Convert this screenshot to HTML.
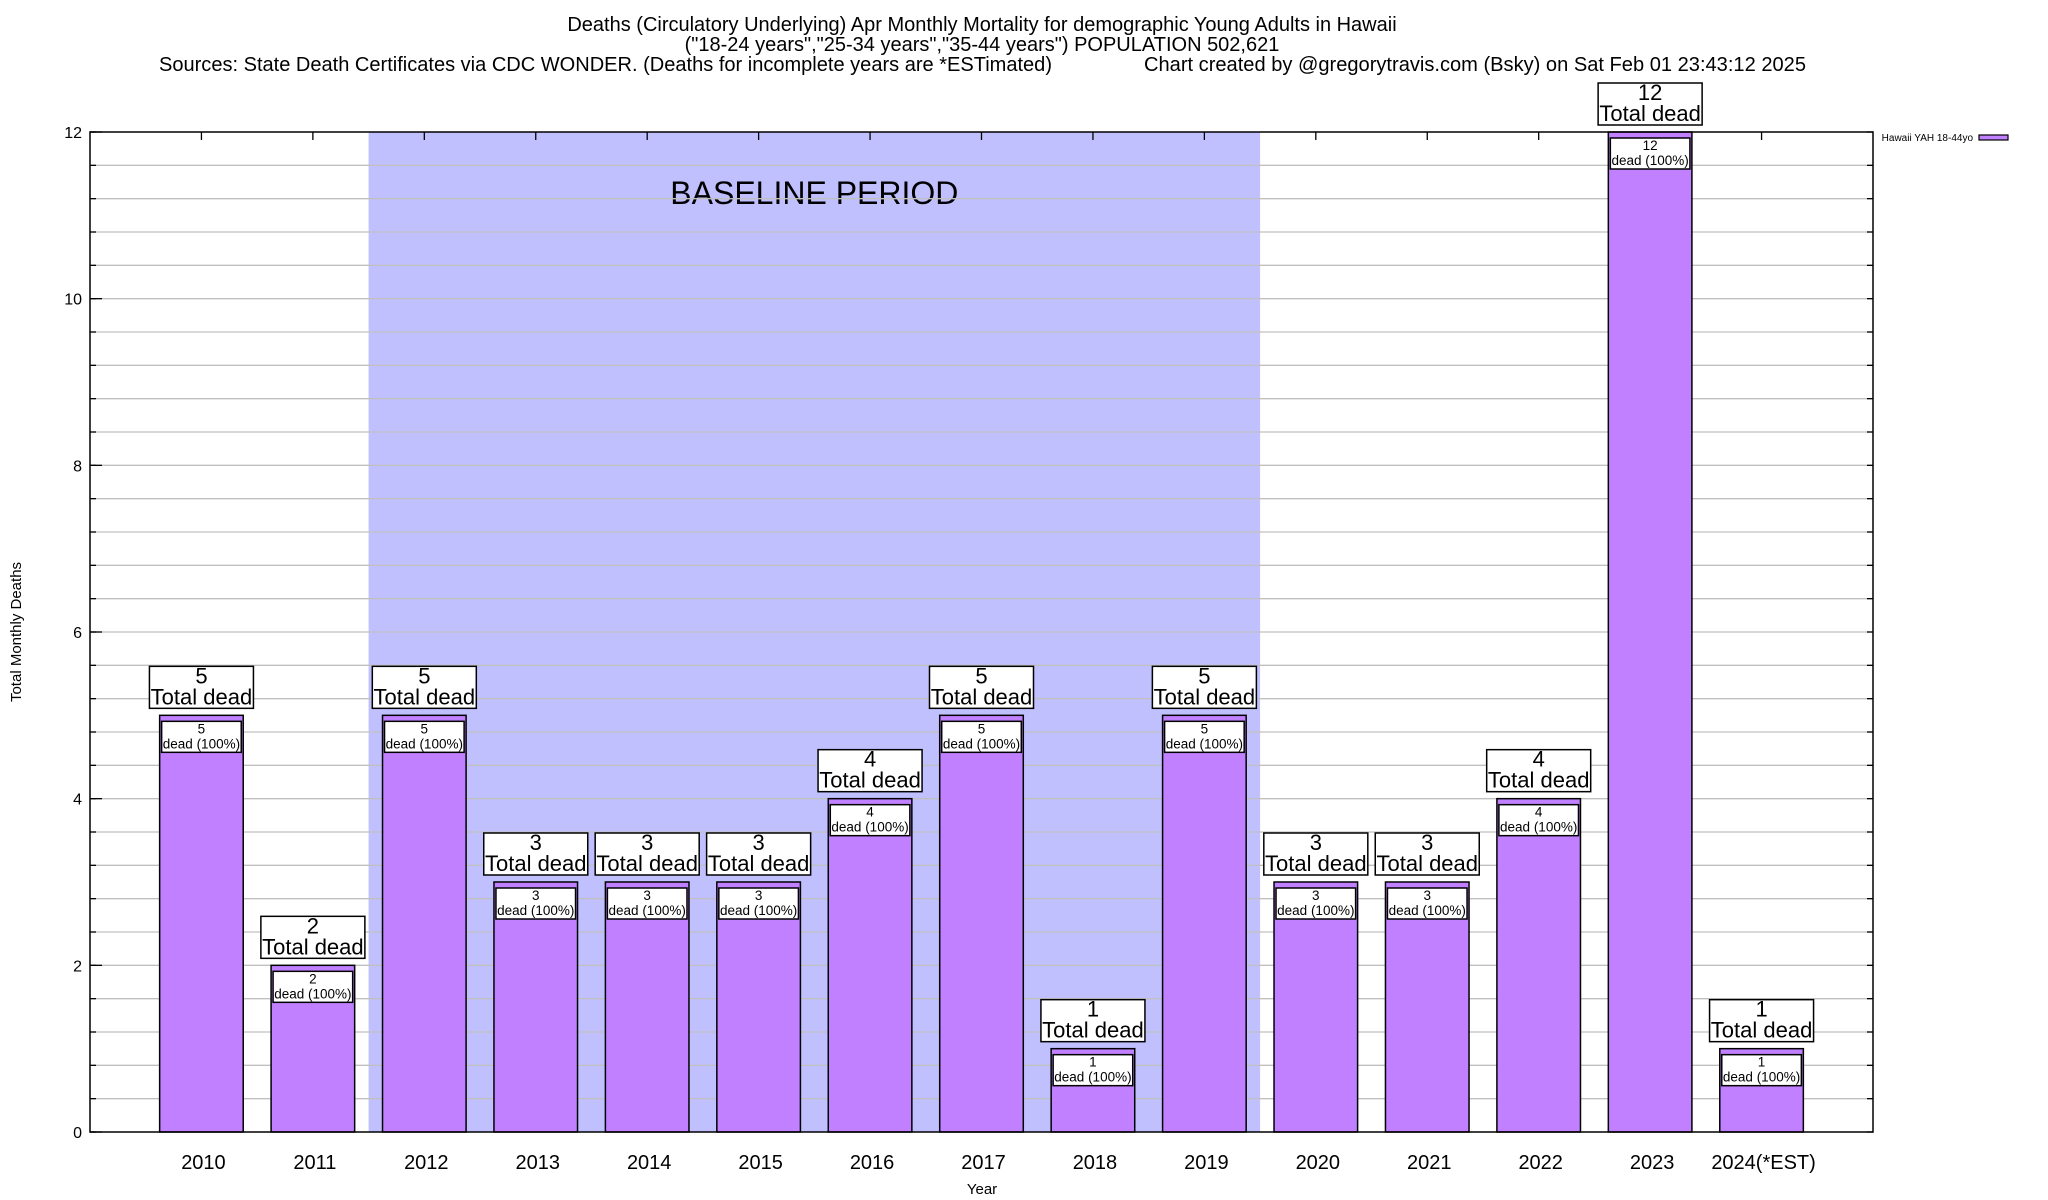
<!DOCTYPE html>
<html><head><meta charset="utf-8"><style>
body{margin:0;background:#fff}
svg{display:block;font-family:"Liberation Sans",sans-serif}
</style></head><body>
<svg id="chart" width="2048" height="1200" viewBox="0 0 2048 1200">
<g font-size="20" text-anchor="middle">
<text x="982" y="31">Deaths (Circulatory Underlying) Apr Monthly Mortality for demographic Young Adults in Hawaii</text>
<text x="982" y="51">("18-24 years","25-34 years","35-44 years") POPULATION 502,621</text>
<text x="159" y="71" text-anchor="start" textLength="893" lengthAdjust="spacingAndGlyphs">Sources: State Death Certificates via CDC WONDER. (Deaths for incomplete years are *ESTimated)</text>
<text x="1144" y="71" text-anchor="start" textLength="662" lengthAdjust="spacingAndGlyphs">Chart created by @gregorytravis.com (Bsky) on Sat Feb 01 23:43:12 2025</text>
</g>
<g id="plot"></g>
</svg>
<script>
const categories = ["2010","2011","2012","2013","2014","2015","2016","2017","2018","2019","2020","2021","2022","2023","2024(*EST)"];
const deaths = [5,2,5,3,3,3,4,5,1,5,3,3,4,12,1];
const yTicks = [0,2,4,6,8,10,12];
const baselineStart = 1.5, baselineEnd = 9.5;

const L=90,R=1873,T=132,B=1132;
const yMax=12;
const xs = i => L + (i+1)*(R-L)/16;
const ys = v => B - v*(B-T)/yMax;
const NS="http://www.w3.org/2000/svg";
const g=document.getElementById('plot');
function mk(tag,attrs,parent){const e=document.createElementNS(NS,tag);for(const k in attrs)e.setAttribute(k,attrs[k]);(parent||g).appendChild(e);return e;}

const sh=mk('rect',{x:xs(baselineStart),y:T,width:xs(baselineEnd)-xs(baselineStart),height:B-T,fill:'#c0c0ff'});


const bt=mk('text',{x:(xs(baselineStart)+xs(baselineEnd))/2,y:204,'font-size':32,'text-anchor':'middle'});
bt.textContent='BASELINE PERIOD';



for(let v=0;v<=yMax+1e-9;v+=0.4){
  const y=ys(v);
  if(v>0.01 && v<yMax-0.01){
    const gl=mk('line',{x1:L,x2:R,y1:y,y2:y,stroke:'#c0c0c0','stroke-width':1.3});
    
    
  }
  mk('line',{x1:L,x2:L+6,y1:y,y2:y,stroke:'#000','stroke-width':1.3});
  mk('line',{x1:R,x2:R-6,y1:y,y2:y,stroke:'#000','stroke-width':1.3});
}
yTicks.forEach(v=>{
  mk('line',{x1:L,x2:L+12,y1:ys(v),y2:ys(v),stroke:'#000','stroke-width':1.3});
  const t=mk('text',{x:L-8,y:ys(v)+6,'font-size':16,'text-anchor':'end'});
  t.textContent=v;
  
  
});

const bw=(R-L)/16*0.75;
categories.forEach((c,i)=>{
  const cx=xs(i), v=deaths[i], top=ys(v);
  mk('line',{x1:cx,x2:cx,y1:T,y2:T+8,stroke:'#000','stroke-width':1.3});
  const b=mk('rect',{x:cx-bw/2,y:top,width:bw,height:B-top,fill:'#c080ff',stroke:'#000','stroke-width':1.5});
  
  
  const ib=mk('rect',{x:cx-bw/2+2,y:top+6,width:bw-4,height:31,fill:'#fff',stroke:'#000','stroke-width':1.5});
  
  
  const t1=mk('text',{x:cx,y:top+18,'font-size':13.5,'text-anchor':'middle'});t1.textContent=v;
  
  
  const t2=mk('text',{x:cx,y:top+33,'font-size':13.5,'text-anchor':'middle'});t2.textContent='dead (100%)';
  
  
  const ob=mk('rect',{x:cx-52,y:top-49,width:104,height:42,fill:'#fff',stroke:'#000','stroke-width':1.5});
  
  
  const o1=mk('text',{x:cx,y:top-32,'font-size':22,'text-anchor':'middle'});o1.textContent=v;
  
  
  const o2=mk('text',{x:cx,y:top-11,'font-size':22,'text-anchor':'middle'});o2.textContent='Total dead';
  
  
  const xl=mk('text',{x:cx+2,y:1169,'font-size':20,'text-anchor':'middle'});xl.textContent=c;
  
  
});

const fr=mk('rect',{x:L,y:T,width:R-L,height:B-T,fill:'none',stroke:'#000','stroke-width':1.5});



const yt=mk('text',{x:0,y:0,'font-size':15,'text-anchor':'middle',transform:'translate(21,632) rotate(-90)'});
yt.textContent='Total Monthly Deaths';


const xt=mk('text',{x:982,y:1194,'font-size':15,'text-anchor':'middle'});
xt.textContent='Year';



const lt=mk('text',{x:1973,y:141,'font-size':10,'text-anchor':'end'});
lt.textContent='Hawaii YAH 18-44yo';


const ls=mk('rect',{x:1979,y:135,width:29,height:5,fill:'#c080ff',stroke:'#000','stroke-width':1.2});


</script>
</body></html>
